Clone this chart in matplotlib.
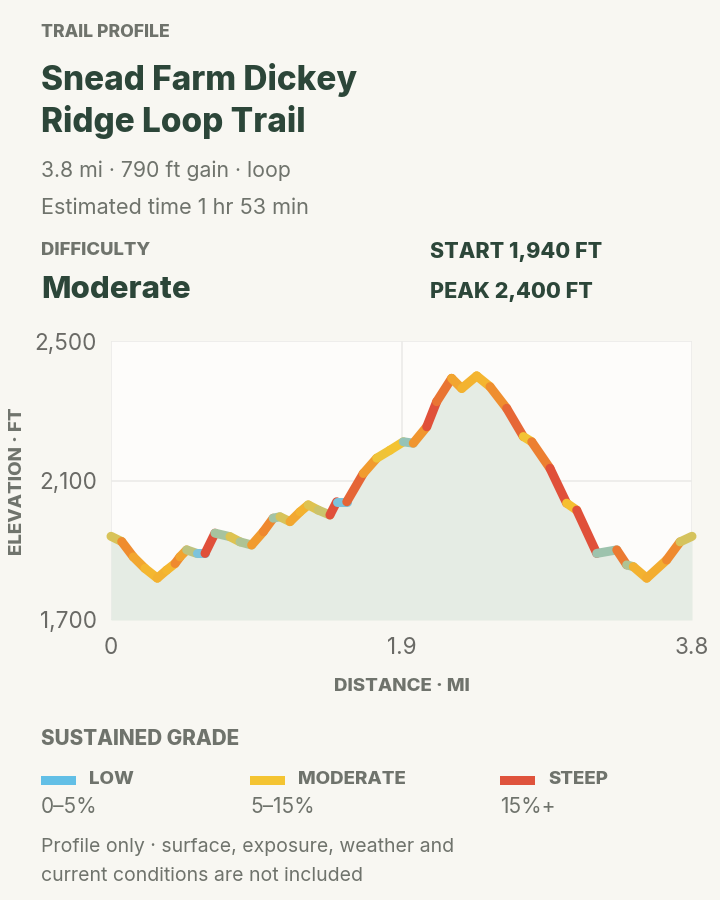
import matplotlib
matplotlib.use("Agg")
import matplotlib.pyplot as plt
import numpy as np
from matplotlib.collections import LineCollection
from matplotlib.colors import LinearSegmentedColormap, Normalize
from matplotlib.patches import Rectangle

plt.rcParams['font.family'] = ['Inter', 'DejaVu Sans']

# ---- data ----
dist_mi = [0.00, 0.07, 0.146, 0.222, 0.303, 0.364, 0.419, 0.451, 0.495, 0.561,
           0.615, 0.680, 0.778, 0.844, 0.920, 0.996, 1.061, 1.105, 1.171, 1.236,
           1.290, 1.356, 1.432, 1.476, 1.542, 1.650, 1.738, 1.825, 1.912, 1.977,
           2.065, 2.130, 2.228, 2.294, 2.392, 2.479, 2.588, 2.697, 2.752, 2.871,
           2.980, 3.046, 3.177, 3.308, 3.373, 3.416, 3.504, 3.634, 3.722, 3.80]
elev_ft = [1940, 1925, 1881, 1848, 1820, 1843, 1862, 1881, 1901, 1891,
           1891, 1949, 1939, 1924, 1915, 1953, 1992, 1996, 1982, 2010,
           2030, 2015, 2001, 2039, 2039, 2120, 2164, 2187, 2211, 2207,
           2254, 2326, 2393, 2364, 2400, 2369, 2307, 2226, 2211, 2135,
           2035, 2015, 1891, 1901, 1858, 1853, 1820, 1872, 1924, 1940]
x_ticks = [0, 1.9, 3.8]
x_tick_labels = ["0", "1.9", "3.8"]
y_ticks = [1700, 2100, 2500]
y_tick_labels = ["1,700", "2,100", "2,500"]
grade_names = ["LOW", "MODERATE", "STEEP"]
grade_ranges = ["0–5%", "5–15%", "15%+"]
grade_colors = ["#62bfe6", "#f4c432", "#df533c"]

BG = "#f8f7f2"
DARK = "#2c4639"
GRAY = "#6f736c"
HW = 800

fig = plt.figure(figsize=(7.2, 9.0), dpi=100, facecolor=BG)

def T(x, y, s, **kw):
    fig.text(x/720, 1-y/900, s, va='baseline', **kw)

# ---- header ----
T(41, 37, "TRAIL PROFILE", fontsize=12.7, fontweight=HW, color=GRAY)
T(41, 90, "Snead Farm Dickey", fontsize=24, fontweight=HW, color=DARK)
T(41, 132, "Ridge Loop Trail", fontsize=24, fontweight=HW, color=DARK)
T(41, 177, "3.8 mi · 790 ft gain · loop", fontsize=15.3, color=GRAY)
T(41, 214, "Estimated time 1 hr 53 min", fontsize=15.6, color=GRAY)
T(41, 255, "DIFFICULTY", fontsize=13.3, fontweight=HW, color=GRAY)
T(41, 298, "Moderate", fontsize=22.5, fontweight=HW, color=DARK)
T(430, 258, "START 1,940 FT", fontsize=15.5, fontweight=HW, color=DARK)
T(430, 298, "PEAK 2,400 FT", fontsize=15.5, fontweight=HW, color=DARK)

# ---- chart ----
ax = fig.add_axes([111/720, 1-620/900, 581/720, 279/900])
ax.set_facecolor("#fdfcfa")
ax.set_xlim(0, 3.8)
ax.set_ylim(1700, 2500)
for s in ax.spines.values():
    s.set_visible(False)
ax.set_xticks(x_ticks)
ax.set_xticklabels(x_tick_labels)
ax.set_yticks(y_ticks)
ax.set_yticklabels(y_tick_labels)
ax.tick_params(length=0, labelsize=16.2, colors="#6a6a66")
ax.tick_params(axis='y', pad=10)
ax.tick_params(axis='x', pad=12)
ax.grid(True, color="#ebebe8", linewidth=1.2)
ax.set_axisbelow(True)

d = np.array(dist_mi)
e = np.array(elev_ft)
ax.fill_between(d, e, 1700, color="#e5ece4", linewidth=0, zorder=1)

grade = np.abs(np.diff(e)) / (np.diff(d) * 5280)
cmap = LinearSegmentedColormap.from_list(
    "grade", [(0.0, "#7cc3dc"), (0.33, "#f5c330"), (0.7, "#ef8a2f"), (1.0, "#e0503a")])
norm = Normalize(0, 0.16)
pts = np.column_stack([d, e]).reshape(-1, 1, 2)
segs = np.concatenate([pts[:-1], pts[1:]], axis=1)
lc = LineCollection(segs, colors=cmap(norm(grade)), linewidths=6.5, capstyle='round',
                    joinstyle='round', zorder=3, clip_on=False)
ax.add_collection(lc)

T(402, 691, "DISTANCE · MI", fontsize=13.5, fontweight=HW, color=GRAY, ha='center')
fig.text(18/720, 1-481/900, "ELEVATION · FT", fontsize=13.5, fontweight=HW, color=GRAY,
         rotation=90, ha='center', va='center')

# ---- legend ----
T(41, 745, "SUSTAINED GRADE", fontsize=14.9, fontweight=HW, color=GRAY)
lx = [41, 250, 500]
for x0, name, rng, col in zip(lx, grade_names, grade_ranges, grade_colors):
    fig.add_artist(Rectangle((x0/720, 1-785/900), 35/720, 9/900, transform=fig.transFigure,
                             facecolor=col, edgecolor='none'))
    T(x0+48, 784, name, fontsize=13.5, fontweight=HW, color=GRAY)
    T(x0, 813, rng, fontsize=15, color=GRAY)

T(41, 852, "Profile only · surface, exposure, weather and", fontsize=14, color=GRAY)
T(41, 881, "current conditions are not included", fontsize=14, color=GRAY)

fig.savefig("out.png", dpi=100, facecolor=BG)
